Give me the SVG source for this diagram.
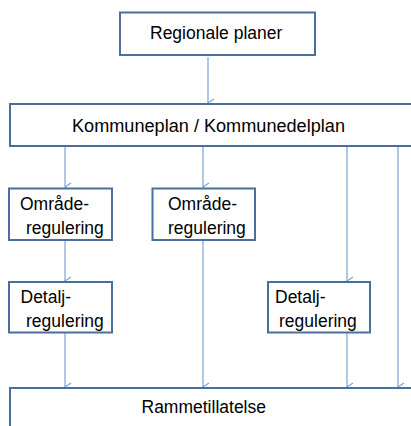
<svg xmlns="http://www.w3.org/2000/svg" width="411" height="426" viewBox="0 0 411 426">
<defs>
<style>
.box{fill:#fff;stroke:#4a6f9f;stroke-width:2}
.t{font-family:"Liberation Sans",Arial,sans-serif;font-size:17.5px;fill:#000}
.c{stroke:#7aa3d6;stroke-width:1.2;fill:none}
</style>
<marker id="ah" markerWidth="10" markerHeight="8" refX="5" refY="7" orient="auto-start-reverse" markerUnits="userSpaceOnUse" viewBox="0 0 10 8">
<path d="M1,1 L5,7 L9,1" fill="none" stroke="#7aa3d6" stroke-width="1.2"/>
</marker>
</defs>
<rect width="411" height="426" fill="#fff"/>
<g id="connectors">
<line class="c" x1="208" y1="57" x2="208" y2="103" marker-end="url(#ah)"/>
<line class="c" x1="65" y1="146" x2="65" y2="187" marker-end="url(#ah)"/>
<line class="c" x1="203" y1="146" x2="203" y2="187" marker-end="url(#ah)"/>
<line class="c" x1="347" y1="146" x2="347" y2="281" marker-end="url(#ah)"/>
<line class="c" x1="398" y1="146" x2="398" y2="387" marker-end="url(#ah)"/>
<line class="c" x1="65" y1="240" x2="65" y2="281" marker-end="url(#ah)"/>
<line class="c" x1="203" y1="240" x2="203" y2="387" marker-end="url(#ah)"/>
<line class="c" x1="65" y1="333" x2="65" y2="387" marker-end="url(#ah)"/>
<line class="c" x1="347" y1="333" x2="347" y2="387" marker-end="url(#ah)"/>
</g>
<g id="regionale">
<rect class="box" x="120" y="12.5" width="195" height="42.5"/>
<text class="t" x="150" y="39">Regionale planer</text>
</g>
<g id="kommuneplan">
<rect class="box" x="10" y="104" width="410" height="42"/>
<text class="t" x="72" y="132" textLength="273" lengthAdjust="spacingAndGlyphs">Kommuneplan / Kommunedelplan</text>
</g>
<g id="omrade1">
<rect class="box" x="9" y="188.5" width="103" height="51.5"/>
<text class="t" x="20" y="210">Område-</text>
<text class="t" x="26" y="234">regulering</text>
</g>
<g id="omrade2">
<rect class="box" x="152.5" y="188.5" width="102.5" height="51.5"/>
<text class="t" x="168" y="210">Område-</text>
<text class="t" x="168" y="234">regulering</text>
</g>
<g id="detalj1">
<rect class="box" x="9" y="282" width="103" height="50.5"/>
<text class="t" x="20.5" y="303">Detalj-</text>
<text class="t" x="26" y="327">regulering</text>
</g>
<g id="detalj2">
<rect class="box" x="268" y="282" width="102" height="50.5"/>
<text class="t" x="275" y="303">Detalj-</text>
<text class="t" x="279" y="327">regulering</text>
</g>
<g id="rammetillatelse">
<rect class="box" x="10" y="388" width="410" height="50"/>
<text class="t" x="141.5" y="413">Rammetillatelse</text>
</g>
</svg>
